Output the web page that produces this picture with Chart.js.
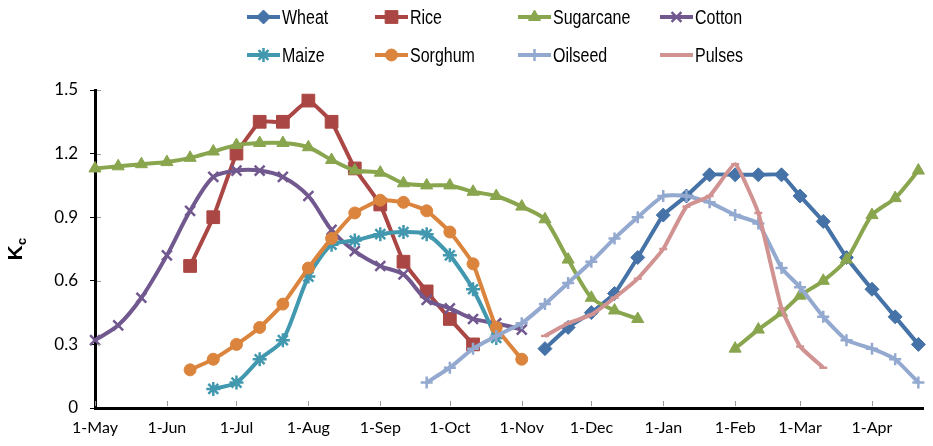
<!DOCTYPE html>
<html>
<head>
<meta charset="utf-8">
<script src="https://cdn.jsdelivr.net/npm/chart.js@4.4.0/dist/chart.umd.min.js"></script>
<style>
  html, body { margin: 0; padding: 0; background: #fff; }
  #chart { display: block; }
</style>
</head>
<body>
<canvas id="chart" width="933" height="446"></canvas>
<script>
// ten-day steps through the crop year, May to April
const dekads = ['1-May', '11-May', '21-May', '1-Jun', '11-Jun', '21-Jun', '1-Jul', '11-Jul', '21-Jul',
  '1-Aug', '11-Aug', '21-Aug', '1-Sep', '11-Sep', '21-Sep', '1-Oct', '11-Oct', '21-Oct',
  '1-Nov', '11-Nov', '21-Nov', '1-Dec', '11-Dec', '21-Dec', '1-Jan', '11-Jan', '21-Jan',
  '1-Feb', '11-Feb', '21-Feb', '1-Mar', '11-Mar', '21-Mar', '1-Apr', '11-Apr', '21-Apr'];
const monthTicks = ['1-May', '1-Jun', '1-Jul', '1-Aug', '1-Sep', '1-Oct', '1-Nov', '1-Dec', '1-Jan', '1-Feb', '1-Mar', '1-Apr'];
const monthDays = { May: 31, Jun: 30, Jul: 31, Aug: 31, Sep: 30, Oct: 31, Nov: 30, Dec: 31, Jan: 31, Feb: 28, Mar: 31, Apr: 30 };
const yTicks = [0, 0.3, 0.6, 0.9, 1.2, 1.5];

const cropNames = ['Wheat', 'Rice', 'Sugarcane', 'Cotton', 'Maize', 'Sorghum', 'Oilseed', 'Pulses'];

// Kc values, each crop starts at its own dekad
const wheatFrom = '11-Nov';
const wheat = [0.28, 0.38, 0.45, 0.54, 0.71, 0.91, 1.00, 1.10, 1.10, 1.10, 1.10, 1.00, 0.88, 0.71, 0.56, 0.43, 0.30];
const riceFrom = '11-Jun';
const rice = [0.67, 0.90, 1.20, 1.35, 1.35, 1.45, 1.35, 1.13, 0.96, 0.69, 0.55, 0.42, 0.30];
const sugarcaneFrom = '1-May';
const sugarcane = [1.13, 1.14, 1.15, 1.16, 1.18, 1.21, 1.24, 1.25, 1.25, 1.23, 1.17, 1.12, 1.11, 1.06, 1.05, 1.05,
  1.02, 1.00, 0.95, 0.89, 0.70, 0.52, 0.46, 0.42, null, null, null, 0.28, 0.37, 0.45, 0.53, 0.60, 0.70, 0.91, 0.99, 1.12];
const cottonFrom = '1-May';
const cotton = [0.32, 0.39, 0.52, 0.72, 0.93, 1.09, 1.12, 1.12, 1.09, 1.00, 0.84, 0.74, 0.67, 0.63, 0.51, 0.47, 0.42, 0.40, 0.37];
const maizeFrom = '21-Jun';
const maize = [0.09, 0.12, 0.23, 0.32, 0.62, 0.77, 0.79, 0.82, 0.83, 0.82, 0.72, 0.56, 0.33];
const sorghumFrom = '11-Jun';
const sorghum = [0.18, 0.23, 0.30, 0.38, 0.49, 0.66, 0.80, 0.92, 0.98, 0.97, 0.93, 0.83, 0.68, 0.38, 0.23];
const oilseedFrom = '21-Sep';
const oilseed = [0.12, 0.19, 0.28, 0.34, 0.40, 0.49, 0.59, 0.69, 0.80, 0.90, 1.00, 1.00, 0.97, 0.91, 0.87, 0.66,
  0.57, 0.43, 0.32, 0.28, 0.23, 0.12];
const pulsesFrom = '11-Nov';
const pulses = [0.34, 0.40, 0.44, 0.52, 0.61, 0.75, 0.95, 1.00, 1.15, 0.92, 0.47, 0.29, 0.19];

const seriesValues = [wheat, rice, sugarcane, cotton, maize, sorghum, oilseed, pulses];
const seriesFrom = [wheatFrom, riceFrom, sugarcaneFrom, cottonFrom, maizeFrom, sorghumFrom, oilseedFrom, pulsesFrom];

// look of each crop line
const styles = [
  { color: '#4572A7', point: 'rectRot', radius: 7, tension: 0.1 },
  { color: '#AA4643', point: 'rect', radius: 9, tension: 0.1 },
  { color: '#89A54E', point: 'triangle', radius: 7, tension: 0.25 },
  { color: '#71588F', point: 'crossRot', radius: 7, tension: 0.3 },
  { color: '#4198AF', point: 'star', radius: 7, tension: 0.25 },
  { color: '#DB843D', point: 'circle', radius: 6, tension: 0.15 },
  { color: '#93A9CF', point: 'cross', radius: 6, tension: 0.15 },
  { color: '#D19392', point: 'line', radius: 4, tension: 0.12 }
];

// day count from 1-May for a label like '11-Nov'
function dayOf(label) {
  const parts = label.split('-');
  let day = 0;
  for (const m of Object.keys(monthDays)) {
    if (m === parts[1]) break;
    day += monthDays[m];
  }
  return day + parseInt(parts[0], 10) - 1;
}

const tickLabelFor = {};
monthTicks.forEach(l => { tickLabelFor[dayOf(l)] = l; });

const datasets = cropNames.map((name, i) => {
  const start = dekads.indexOf(seriesFrom[i]);
  const st = styles[i];
  return {
    label: name,
    data: seriesValues[i].map((v, k) => ({ x: dayOf(dekads[start + k]), y: v })),
    borderColor: st.color,
    backgroundColor: st.color,
    pointBackgroundColor: st.color,
    pointBorderColor: st.color,
    borderWidth: 4,
    pointStyle: st.point,
    pointRadius: st.radius,
    pointBorderWidth: (st.point === 'cross' || st.point === 'crossRot' || st.point === 'star' || st.point === 'line') ? 2.5 : 1,
    tension: st.tension,
    spanGaps: false,
    clip: false,
    order: cropNames.length - i
  };
});

// legend slots: column x of the line sample, row y
const legendCols = [247, 375, 518, 660];
const legendRows = [17, 55];

const extras = {
  id: 'extras',
  afterDraw(chart) {
    const ctx = chart.ctx;
    const xs = chart.scales.x, ys = chart.scales.y;
    ctx.save();

    // small inner tick marks on the axes
    ctx.strokeStyle = '#9a9a9a';
    ctx.lineWidth = 1;
    monthTicks.forEach(l => {
      const px = Math.round(xs.getPixelForValue(dayOf(l))) + 0.5;
      ctx.beginPath();
      ctx.moveTo(px, ys.bottom - 2);
      ctx.lineTo(px, ys.bottom - 7);
      ctx.stroke();
    });
    yTicks.forEach(v => {
      if (v === 0) return;
      const py = Math.round(ys.getPixelForValue(v)) + 0.5;
      ctx.beginPath();
      ctx.moveTo(xs.left + 2, py);
      ctx.lineTo(xs.left + 6, py);
      ctx.stroke();
    });

    // y axis title K with subscript c
    ctx.fillStyle = '#000';
    ctx.translate(16, 253);
    ctx.rotate(-Math.PI / 2);
    ctx.textAlign = 'center';
    ctx.textBaseline = 'middle';
    ctx.font = 'bold 21px "Liberation Sans", Arial, sans-serif';
    ctx.fillText('K', 0, 0);
    ctx.textAlign = 'left';
    ctx.font = 'bold 13px "Liberation Sans", Arial, sans-serif';
    ctx.fillText('c', 8, 6);
    ctx.setTransform(1, 0, 0, 1, 0, 0);

    // legend, 4 columns by 2 rows
    datasets.forEach((ds, i) => {
      const lx = legendCols[i % 4];
      const ly = legendRows[Math.floor(i / 4)];
      ctx.strokeStyle = ds.borderColor;
      ctx.lineWidth = 4;
      ctx.beginPath();
      ctx.moveTo(lx, ly);
      ctx.lineTo(lx + 33, ly);
      ctx.stroke();
      if (ds.pointStyle !== 'line' && Chart.helpers && Chart.helpers.drawPoint) {
        ctx.fillStyle = ds.pointBackgroundColor;
        ctx.strokeStyle = ds.pointBorderColor;
        ctx.lineWidth = ds.pointBorderWidth;
        Chart.helpers.drawPoint(ctx, { pointStyle: ds.pointStyle, radius: ds.pointRadius, rotation: 0, borderWidth: ds.pointBorderWidth }, lx + 16.5, ly);
      }
      // narrow text: squeeze a regular face horizontally
      ctx.save();
      ctx.translate(lx + 35, ly + 1);
      ctx.scale(0.8, 1);
      ctx.fillStyle = '#000';
      ctx.font = '20px "Liberation Sans", Arial, sans-serif';
      ctx.textAlign = 'left';
      ctx.textBaseline = 'middle';
      ctx.fillText(ds.label, 0, 0);
      ctx.restore();
    });
    ctx.restore();
  }
};

new Chart(document.getElementById('chart'), {
  type: 'line',
  data: { datasets: datasets },
  options: {
    responsive: false,
    animation: false,
    layout: { padding: { top: 90, right: 7, left: 0, bottom: 0 } },
    plugins: { legend: { display: false }, tooltip: { enabled: false } },
    scales: {
      x: {
        type: 'linear',
        min: 0,
        max: 357,
        afterFit(scale) { scale.height = 38; },
        afterBuildTicks(scale) { scale.ticks = monthTicks.map(l => ({ value: dayOf(l) })); },
        grid: { display: true, drawOnChartArea: false, drawTicks: false },
        border: { color: '#000', width: 3 },
        ticks: {
          autoSkip: false,
          maxRotation: 0,
          padding: 10,
          color: '#000',
          font: { family: 'Lato, "Liberation Sans", sans-serif', size: 16 },
          callback: v => tickLabelFor[v] || ''
        }
      },
      y: {
        min: 0,
        max: 1.5,
        afterFit(scale) { scale.width = 95; },
        afterBuildTicks(scale) { scale.ticks = yTicks.map(v => ({ value: v })); },
        grid: { display: true, drawOnChartArea: false, drawTicks: true, tickLength: 5, color: '#000', tickWidth: 1 },
        border: { color: '#000', width: 3 },
        ticks: {
          padding: 12,
          color: '#000',
          font: { family: 'Lato, "Liberation Sans", sans-serif', size: 17 },
          callback: v => String(+v.toFixed(1))
        }
      }
    }
  },
  plugins: [extras]
});
</script>
</body>
</html>
